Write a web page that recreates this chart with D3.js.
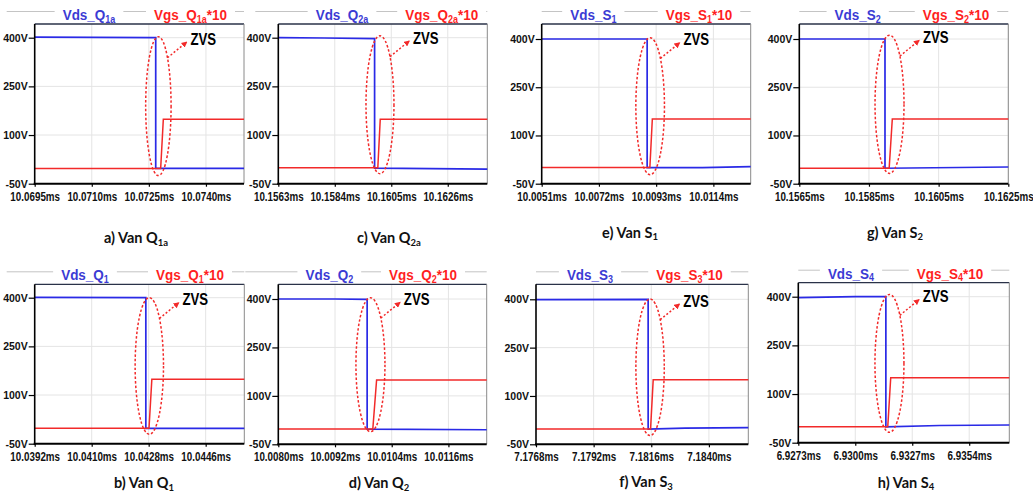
<!DOCTYPE html>
<html><head><meta charset="utf-8">
<script src="https://cdn.jsdelivr.net/npm/d3@7"></script>
<style>body{margin:0;background:#fff;} svg{display:block;}</style>
</head><body><svg id="c" width="1033" height="493"></svg>
<script>
// ---------------- DATA ----------------
const panelKeys = ["a","c","e","g","b","d","f","h"];
const captionText = ["a) Van Q","c) Van Q","e) Van S","g) Van S","b) Van Q","d) Van Q","f) Van S","h) Van S"];
const devicePrefix = ["Q","Q","S","S","Q","Q","S","S"];
const deviceSub = ["1a","2a","1","2","1","2","3","4"];
const yTickValues = [-50, 100, 250, 400];
const xTickValues = [
  [10.0695,10.0710,10.0725,10.0740],
  [10.1563,10.1584,10.1605,10.1626],
  [10.0051,10.0072,10.0093,10.0114],
  [10.1565,10.1585,10.1605,10.1625],
  [10.0392,10.0410,10.0428,10.0446],
  [10.0080,10.0092,10.0104,10.0116],
  [7.1768,7.1792,7.1816,7.1840],
  [6.9273,6.9300,6.9327,6.9354]
];
const xEnd = [10.0750,10.16407,10.01277,10.1625,10.04582,10.01241,7.18564,6.9373];
// Vds (time ms, volts)
const vdsA = [[10.0695,402],[10.0726,400],[10.07268,400],[10.07268,-3],[10.0750,-3]];
const vdsC = [[10.1563,400],[10.1580,399],[10.15988,397],[10.15988,-2],[10.16407,-5]];
const vdsE = [[10.0051,400],[10.00897,400],[10.00897,0],[10.0110,0],[10.01277,3]];
const vdsG = [[10.1565,400],[10.15896,400],[10.15896,-2],[10.1625,2]];
const vdsB = [[10.0392,401],[10.04271,400],[10.04271,-3],[10.04582,-3]];
const vdsD = [[10.0080,400],[10.0092,400],[10.00988,399],[10.00988,-3],[10.01241,-5]];
const vdsF = [[7.1768,399],[7.18147,400],[7.18147,-3],[7.1830,0],[7.18564,1.5]];
const vdsH = [[6.9273,397],[6.9300,400],[6.93145,400],[6.93145,-1],[6.9340,3],[6.9373,4.5]];
// Vgs*10 (time ms, volts)
const vgsA = [[10.0695,-3],[10.07281,-3],[10.07288,149],[10.0750,149]];
const vgsC = [[10.1563,-1],[10.16000,-1],[10.16009,149],[10.16407,149]];
const vgsE = [[10.0051,0],[10.00907,0],[10.00916,151],[10.01277,151]];
const vgsG = [[10.1565,-2],[10.15908,-2],[10.15917,151],[10.1625,151]];
const vgsB = [[10.0392,-2.5],[10.04281,-2.5],[10.04290,149],[10.04582,149]];
const vgsD = [[10.0080,-2.5],[10.01000,-2.5],[10.01008,149],[10.01241,149]];
const vgsF = [[7.1768,-2.5],[7.18157,-2.5],[7.18168,150],[7.18564,150]];
const vgsH = [[6.9273,-1],[6.93154,-1],[6.93168,150],[6.9373,150]];
const vdsSeries = [vdsA,vdsC,vdsE,vdsG,vdsB,vdsD,vdsF,vdsH];
const vgsSeries = [vgsA,vgsC,vgsE,vgsG,vgsB,vgsD,vgsF,vgsH];
// ZVS ellipse annotation (data units)
const zvsT = [10.07275,10.16008,10.00908,10.15909,10.04282,10.00995,7.18155,6.93162];
const zvsHalf = [0.000334,0.00052,0.000525,0.000416,0.000448,0.000307,0.000591,0.000687];
const zvsTop = [403,406,404,412,400,404,401,407];
const zvsBottom = [-25,-19,-22,-18,-21,-11,-23,-18];

// ---------------- LAYOUT ----------------
const layout = [
 {L:34.7,R:244,T:24,y400:37.7,yb:183.7, vdsX:54.3, vgsX:155.8, lineStart:-28, capX:136, capY:243},
 {L:278.3,R:487.3,T:24,y400:37.7,yb:183.7, vdsX:63.7, vgsX:163.4, lineStart:-23, capX:389, capY:243},
 {L:541.7,R:750.7,T:24,y400:39,yb:183.7, vdsX:51.6, vgsX:157.3, lineStart:0, capX:630, capY:237.5},
 {L:799.3,R:1008.3,T:24,y400:39,yb:183.7, vdsX:58.4, vgsX:156.7, lineStart:0, capX:895, capY:237.5},
 {L:34.7,R:244.3,T:284.3,y400:297.7,yb:443.7, vdsX:50.3, vgsX:155.3, lineStart:-28, capX:144, capY:488},
 {L:278.3,R:486.7,T:284.3,y400:299,yb:444.3, vdsX:51, vgsX:144.7, lineStart:-33, capX:379, capY:488},
 {L:536,R:748.3,T:284.3,y400:299.3,yb:444.3, vdsX:54, vgsX:153.5, lineStart:0, capX:646, capY:487},
 {L:798.3,R:1009.3,T:282.7,y400:296.7,yb:442.7, vdsX:52.7, vgsX:151.7, lineStart:0, capX:906, capY:487.5}
];
const BLUE = "#2a2ae6", RED = "#f22a2a", BLUE_TXT = "#3b3bd4", RED_TXT = "#ff1f1f";
const ARIAL = "'Liberation Sans', Arial, sans-serif";

const svg = d3.select("#c");
svg.append("rect").attr("width",1033).attr("height",493).attr("fill","#fff");
const defs = svg.append("defs");
defs.append("marker").attr("id","ah").attr("viewBox","0 0 10 10")
  .attr("refX",8).attr("refY",5).attr("markerWidth",4).attr("markerHeight",4)
  .attr("markerUnits","strokeWidth").attr("orient","auto")
  .append("path").attr("d","M0,0L10,5L0,10Z").attr("fill",RED);

panelKeys.forEach((k,i) => {
  const P = layout[i];
  const x = d3.scaleLinear().domain([xTickValues[i][0], xEnd[i]]).range([P.L, P.R]);
  const y = d3.scaleLinear().domain([-50, 400]).range([P.yb, P.y400]);
  const g = svg.append("g").attr("class","panel-"+k);

  // legend strip line
  g.append("line").attr("x1",P.L+P.lineStart).attr("x2",P.R).attr("y1",P.T-12.5).attr("y2",P.T-12.5)
    .attr("stroke","#c4c4c4").attr("stroke-width",1);

  // grid
  g.selectAll("line.gy").data(yTickValues.slice(1)).join("line").attr("class","gy")
    .attr("x1",P.L).attr("x2",P.R).attr("y1",d=>y(d)).attr("y2",d=>y(d))
    .attr("stroke","#e4e4e4").attr("stroke-width",1);
  g.selectAll("line.gx").data(xTickValues[i].slice(1)).join("line").attr("class","gx")
    .attr("x1",d=>x(d)).attr("x2",d=>x(d)).attr("y1",P.T).attr("y2",P.yb)
    .attr("stroke","#e4e4e4").attr("stroke-width",1);

  // frame top & right
  g.append("line").attr("x1",P.L).attr("x2",P.R).attr("y1",P.T).attr("y2",P.T)
    .attr("stroke","#2a3248").attr("stroke-width",1.3);
  g.append("line").attr("x1",P.R).attr("x2",P.R).attr("y1",P.T).attr("y2",P.yb)
    .attr("stroke","#8a8a8a").attr("stroke-width",1);

  // traces
  const line = d3.line().x(d=>x(d[0])).y(d=>y(d[1]));
  g.append("path").datum(vdsSeries[i]).attr("d",line).attr("fill","none")
    .attr("stroke",BLUE).attr("stroke-width",1.7);
  g.append("path").datum(vgsSeries[i]).attr("d",line).attr("fill","none")
    .attr("stroke",RED).attr("stroke-width",1.5);

  // axes
  const ya = g.append("g").attr("transform",`translate(${P.L},0)`)
    .call(d3.axisLeft(y).tickValues(yTickValues).tickFormat(d=>d+"V").tickSize(6).tickPadding(1));
  ya.select(".domain").remove();
  ya.selectAll("line").attr("stroke","#000").attr("stroke-width",1.2);
  ya.selectAll("text").attr("font-family",ARIAL).attr("font-weight","bold")
    .attr("font-size",10.5).attr("fill","#111");

  const xa = g.append("g").attr("transform",`translate(0,${P.yb})`)
    .call(d3.axisBottom(x).tickValues(xTickValues[i]).tickFormat(d=>d3.format(".4f")(d)+"ms").tickSize(3).tickPadding(5.5));
  xa.select(".domain").remove();
  xa.selectAll("line").attr("stroke","#000").attr("stroke-width",1.2);
  xa.selectAll("text").attr("font-family",ARIAL).attr("font-weight","bold")
    .attr("font-size",12).attr("fill","#111").attr("transform","scale(0.82,1)");

  g.append("line").attr("x1",P.L).attr("x2",P.L).attr("y1",P.T).attr("y2",P.yb+1)
    .attr("stroke","#000").attr("stroke-width",1.6);
  g.append("line").attr("x1",P.L-1).attr("x2",P.R).attr("y1",P.yb).attr("y2",P.yb)
    .attr("stroke","#000").attr("stroke-width",2);

  // legend labels
  function legend(cx, color, main, sub, tail) {
    const lg = g.append("g");
    const bg = lg.append("rect").attr("fill","#fff");
    const t = lg.append("text").attr("text-anchor","middle")
      .attr("transform",`translate(${cx},${P.T-4}) scale(0.9,1)`)
      .attr("font-family",ARIAL).attr("font-weight","bold").attr("font-size",15).attr("fill",color);
    t.append("tspan").text(main);
    t.append("tspan").text(sub).attr("font-size",10).attr("dy",2.5);
    if (tail) t.append("tspan").text(tail).attr("dy",-2.5);
    const w = t.node().getComputedTextLength()*0.9;
    bg.attr("x",cx-w/2-8).attr("y",P.T-19).attr("width",w+16).attr("height",16.5);
  }
  legend(P.L+P.vdsX, BLUE_TXT, "Vds_"+devicePrefix[i], deviceSub[i], null);
  legend(P.L+P.vgsX, RED_TXT, "Vgs_"+devicePrefix[i], deviceSub[i], "*10");

  // ZVS ellipse + arrow
  const ecx = x(zvsT[i]), erx = x(zvsT[i]+zvsHalf[i]) - ecx;
  const eTop = y(zvsTop[i]), eBot = y(zvsBottom[i]);
  const ecy = (eTop+eBot)/2, ery = (eBot-eTop)/2;
  g.append("ellipse").attr("cx",ecx).attr("cy",ecy).attr("rx",erx).attr("ry",ery)
    .attr("fill","none").attr("stroke",RED).attr("stroke-width",1.5).attr("stroke-dasharray","2.5,2");
  const ang = Math.atan2(-0.7, 0.72);
  const sx = ecx + erx*Math.cos(ang), sy = ecy + ery*Math.sin(ang);
  const ex = sx + 19, ey = sy - 15.5;
  g.append("line").attr("x1",sx).attr("y1",sy).attr("x2",ex).attr("y2",ey)
    .attr("stroke",RED).attr("stroke-width",1.5).attr("stroke-dasharray","2,2")
    .attr("marker-end","url(#ah)");
  g.append("text").attr("transform",`translate(${ex+4},${ey+2.5}) scale(0.8,1)`)
    .attr("font-family",ARIAL).attr("font-weight","bold").attr("font-size",16.5).attr("fill","#000")
    .text("ZVS");

  // caption
  const cap = g.append("text").attr("x",P.capX).attr("y",P.capY).attr("text-anchor","middle")
    .attr("font-family","Lato, 'Open Sans', sans-serif").attr("font-weight","bold")
    .attr("font-size",14.5).attr("fill","#111");
  cap.append("tspan").text(captionText[i]);
  cap.append("tspan").text(deviceSub[i]).attr("font-size",9.5).attr("dy",2.5);
});
</script></body></html>
